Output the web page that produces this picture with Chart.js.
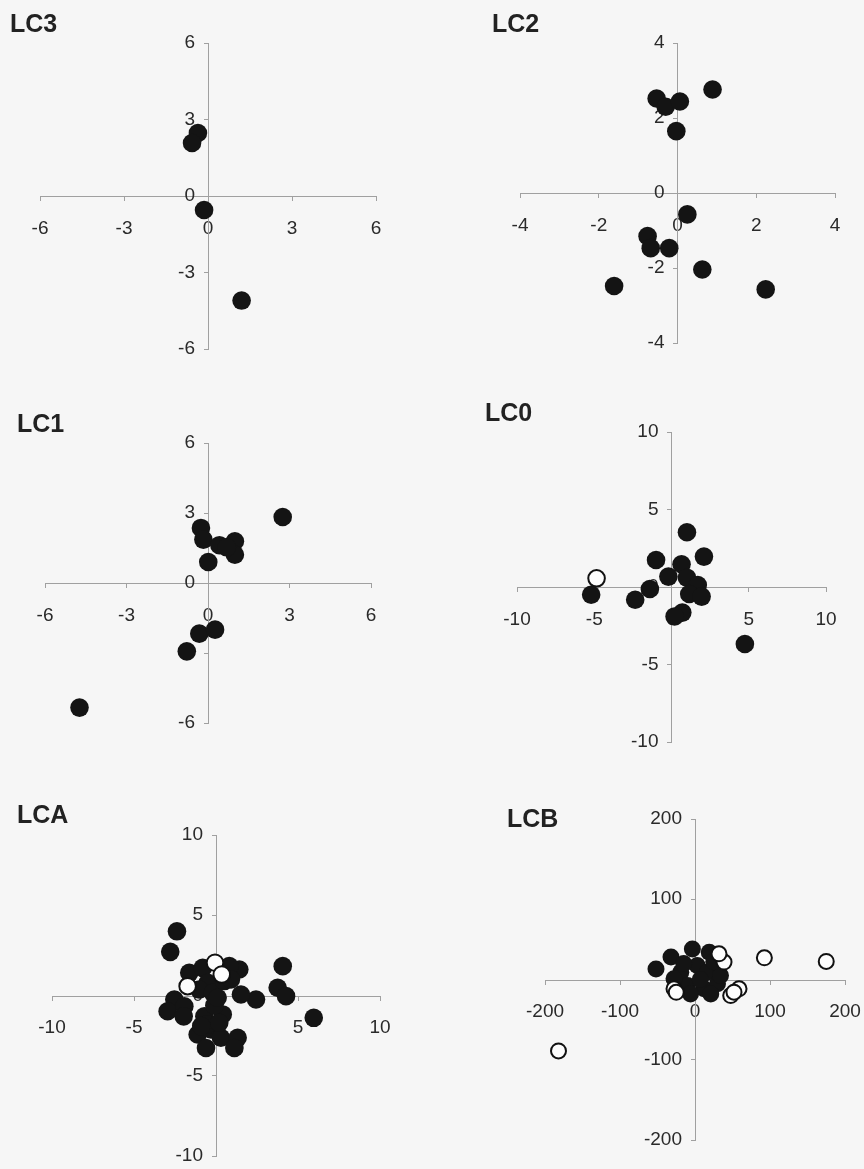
<!DOCTYPE html>
<html>
<head>
<meta charset="utf-8">
<script src="https://cdn.jsdelivr.net/npm/chart.js@4/dist/chart.umd.min.js"></script>
<style>
  html, body { margin: 0; padding: 0; background: #f6f6f6; }
  #page { position: relative; width: 864px; height: 1169px; overflow: hidden; }
  .panel { position: absolute; }
  .title {
    position: absolute;
    font: bold 25px "Liberation Sans", Arial, sans-serif;
    line-height: 25px;
    color: #222;
  }
</style>
</head>
<body>
<div id="page"></div>
<script>
// LC3
const lc3X = [-0.36, -0.57, -0.14, 1.2];
const lc3Y = [2.47, 2.08, -0.55, -4.1];

// LC2
const lc2X = [-0.53, -0.30, 0.06, 0.89, -0.03, 0.25, -0.76, -0.68, -0.21, 0.63, -1.61, 2.24];
const lc2Y = [2.52, 2.30, 2.44, 2.76, 1.65, -0.57, -1.15, -1.47, -1.47, -2.04, -2.48, -2.57];

// LC1
const lc1X = [2.75, -0.26, -0.17, 0.42, 0.99, 0.99, 0.69, 0.01, -0.32, 0.26, -0.78, -4.73];
const lc1Y = [2.83, 2.36, 1.86, 1.62, 1.79, 1.21, 1.53, 0.90, -2.17, -2.00, -2.93, -5.34];

// LC0
const lc0X = [-5.2, -2.35, -1.4, -1.0, -0.2, 0.65, 1.0, 2.1, 1.0, 1.7, 1.15, 1.95, 0.7, 0.2, 4.75];
const lc0Y = [-0.5, -0.82, -0.13, 1.74, 0.67, 1.47, 3.53, 1.96, 0.6, 0.13, -0.45, -0.62, -1.65, -1.9, -3.68];
const lc0OpenX = [-4.85];
const lc0OpenY = [0.56];

// LCA
const lcaX = [-2.38, -2.79, 4.07, 3.76, 4.27, 5.96, 2.44, 1.52, 1.42, 0.81, -1.63, -0.81, -0.51, -1.02,
  -0.2, -2.54, -2.95, -1.93, -1.97, -0.71, 0.41, -0.1, -1.12, -0.3, -0.61, 0.3, 1.32, 1.12, 0.1,
  -0.5, 0.2, -0.9, 0.5, 0.91];
const lcaY = [4.0, 2.72, 1.83, 0.48, -0.04, -1.39, -0.25, 0.06, 1.62, 1.83, 1.41, 1.72, 0.79, 0.37,
  0.17, -0.25, -0.98, -0.67, -1.3, -1.3, -1.18, -0.62, -2.43, -2.12, -3.27, -2.63, -2.63, -3.27, -0.14,
  -1.8, -1.7, -1.9, 0.9, 1.0];
const lcaOpenX = [-0.06, 0.35, -1.73];
const lcaOpenY = [2.04, 1.31, 0.58];

// LCB
const lcbX = [-52, -32, -3.5, 19, -19, 3, 16.5, -10, 12, 30, -6, 21, 34, -28, 7, -15, 25];
const lcbY = [13, 28, 38, 34, 9, 17.5, 9, -7.5, -11.6, -5.4, -18, -18, 5, 1, 0, 20, 22];
const lcbOpenX = [-182, 92.5, 175, 38.7, 32, -28, -25, 58.7, 47.6, 52];
const lcbOpenY = [-89, 27, 22.5, 21.7, 32, -11.6, -16, -11.6, -20, -15.8];

const panels = [
  { name: 'LC3', xs: lc3X, ys: lc3Y, max: 6, step: 3, area: [40, 43, 376, 349], title: [10, 11] },
  { name: 'LC2', xs: lc2X, ys: lc2Y, max: 4, step: 2, area: [520, 43, 835, 343], title: [492, 11] },
  { name: 'LC1', xs: lc1X, ys: lc1Y, max: 6, step: 3, area: [45, 443, 371, 723], title: [17, 411] },
  { name: 'LC0', xs: lc0X, ys: lc0Y, ox: lc0OpenX, oy: lc0OpenY, max: 10, step: 5, area: [517, 432, 826, 742], title: [485, 400] },
  { name: 'LCA', xs: lcaX, ys: lcaY, ox: lcaOpenX, oy: lcaOpenY, max: 10, step: 5, area: [52, 835, 380, 1156], title: [17, 802] },
  { name: 'LCB', xs: lcbX, ys: lcbY, ox: lcbOpenX, oy: lcbOpenY, max: 200, step: 100, area: [545, 819, 845, 1140], title: [507, 806], r: 8.5 }
];

const page = document.getElementById('page');
const pad = { left: 40, right: 40, top: 25, bottom: 35 };
const tickFont = { family: '"Liberation Sans", Arial, sans-serif', size: 19 };

function toPoints(xs, ys) {
  return xs.map((x, i) => ({ x: x, y: ys[i] }));
}

function axis(p, isX) {
  return {
    type: 'linear',
    position: 'center',
    min: -p.max,
    max: p.max,
    grid: { display: true, drawOnChartArea: false, drawTicks: true, tickLength: 4, color: '#a0a0a0' },
    border: { display: true, color: '#a0a0a0', width: 1 },
    ticks: {
      stepSize: p.step,
      color: '#2a2a2a',
      font: tickFont,
      padding: isX ? 17 : 9,
      maxRotation: 0,
      autoSkip: false
    }
  };
}

panels.forEach(p => {
  const [l, t, r, b] = p.area;
  const w = r - l + pad.left + pad.right;
  const h = b - t + pad.top + pad.bottom;

  const box = document.createElement('div');
  box.className = 'panel';
  box.style.left = (l - pad.left) + 'px';
  box.style.top = (t - pad.top) + 'px';
  const canvas = document.createElement('canvas');
  canvas.width = w;
  canvas.height = h;
  box.appendChild(canvas);
  page.appendChild(box);

  const title = document.createElement('div');
  title.className = 'title';
  title.style.left = p.title[0] + 'px';
  title.style.top = p.title[1] + 'px';
  title.textContent = p.name;
  page.appendChild(title);

  const radius = p.r || 9.3;
  const datasets = [];
  if (p.ox) {
    datasets.push({
      label: p.name + ' open',
      data: toPoints(p.ox, p.oy),
      pointRadius: radius - 1,
      pointBackgroundColor: '#fdfdfd',
      pointBorderColor: '#111',
      pointBorderWidth: 2
    });
  }
  datasets.push({
    label: p.name,
    data: toPoints(p.xs, p.ys),
    pointRadius: radius,
    pointBackgroundColor: '#141414',
    pointBorderColor: '#141414',
    pointBorderWidth: 0
  });

  new Chart(canvas.getContext('2d'), {
    type: 'scatter',
    data: { datasets: datasets },
    options: {
      responsive: false,
      animation: false,
      layout: { padding: pad },
      plugins: { legend: { display: false }, tooltip: { enabled: false } },
      scales: { x: axis(p, true), y: axis(p, false) }
    }
  });
});
</script>
</body>
</html>
